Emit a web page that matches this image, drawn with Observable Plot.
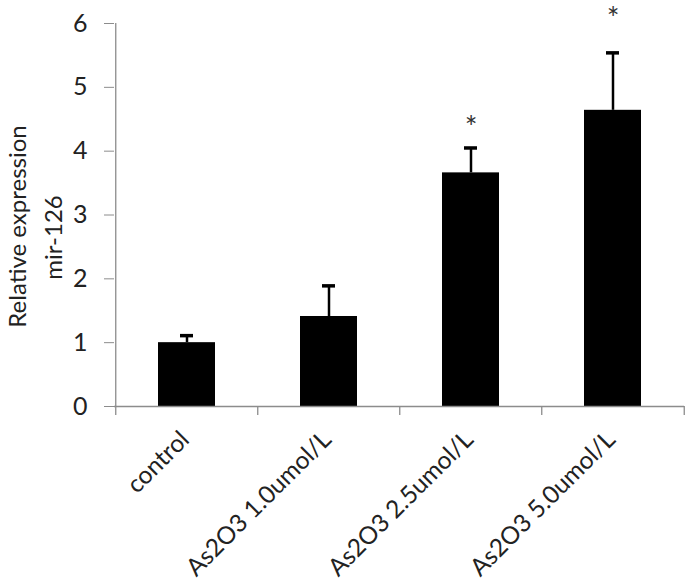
<!DOCTYPE html>
<html>
<head>
<meta charset="utf-8">
<script src="https://cdn.jsdelivr.net/npm/d3@7"></script>
<script src="https://cdn.jsdelivr.net/npm/@observablehq/plot@0.6"></script>
<style>
  html, body { margin: 0; padding: 0; background: #fff; }
  #chart svg { display: block; }
</style>
</head>
<body>
<div id="chart"></div>
<script>
const categories = ["control", "As2O3 1.0umol/L", "As2O3 2.5umol/L", "As2O3 5.0umol/L"];
const means = [1.00, 1.41, 3.66, 4.64];
const errors = [0.11, 0.48, 0.39, 0.90];
const marks = ["", "", "*", "*"];
const markY = [null, null, 4.36, 6.06];
const yTicks = [0, 1, 2, 3, 4, 5, 6];
const yTitle = ["Relative expression", "mir-126"];

const W = 691, H = 586;
const mL = 114, mR = 7, mT = 23, mB = 180;
const step = (W - mL - mR) / categories.length;
const midY = (mT + (H - mB)) / 2;
const axisGray = "#8c8c8c";
const textColor = "#222";
const font = "Lato, 'Open Sans', sans-serif";

const rows = categories.map((c, i) => ({c, v: means[i], e: errors[i], top: means[i] + errors[i], s: marks[i], sy: markY[i]}));
const boundaries = categories.map((c, i) => ({c, first: i === 0}));
const titles = [
  {t: yTitle[0], px: 17.6, py: 226},
  {t: yTitle[1], px: 53.6, py: 237}
];

const chart = Plot.plot({
  width: W,
  height: H,
  marginLeft: mL,
  marginRight: mR,
  marginTop: mT,
  marginBottom: mB,
  style: {fontFamily: font, fontSize: "23px", background: "#fff"},
  x: {domain: categories, paddingInner: 0.6, paddingOuter: 0.3, label: null},
  y: {domain: [0, 6], label: null},
  marks: [
    Plot.barY(rows, {x: "c", y: "v", fill: "#000"}),
    Plot.ruleX(rows, {x: "c", y1: "v", y2: "top", stroke: "#000", strokeWidth: 2.5}),
    Plot.tickY(rows, {x: "c", y: "top", stroke: "#000", strokeWidth: 3.5, insetLeft: 22, insetRight: 22}),
    Plot.ruleY([0], {stroke: axisGray, strokeWidth: 1.3}),
    Plot.ruleX(boundaries, {x: "c", dx: -step / 2, y1: -0.14, y2: d => d.first ? 6 : 0, stroke: axisGray, strokeWidth: 1.3}),
    Plot.ruleX(boundaries.slice(-1), {x: "c", dx: step / 2, y1: -0.14, y2: 0, stroke: axisGray, strokeWidth: 1.3}),
    Plot.axisY({ticks: yTicks, tickSize: 10, tickPadding: 17, stroke: axisGray, fill: textColor, fontSize: 25, label: null, tickFormat: d => String(d)}),
    Plot.axisX({tickRotate: -45, tickSize: 0, tickPadding: 29, dx: -2, fill: textColor, fontSize: 24.5, label: null}),
    Plot.text(rows.filter(d => d.s), {x: "c", y: "sy", text: "s", fill: "#333", fontSize: 30, lineAnchor: "middle"}),
    ...titles.map(d => Plot.text([d], {
      frameAnchor: "left", text: "t", rotate: () => -90, textAnchor: "middle", lineAnchor: "middle",
      dx: d.px - mL, dy: d.py - midY, fill: textColor, fontSize: 24
    }))
  ]
});
document.getElementById("chart").appendChild(chart);
</script>
</body>
</html>
